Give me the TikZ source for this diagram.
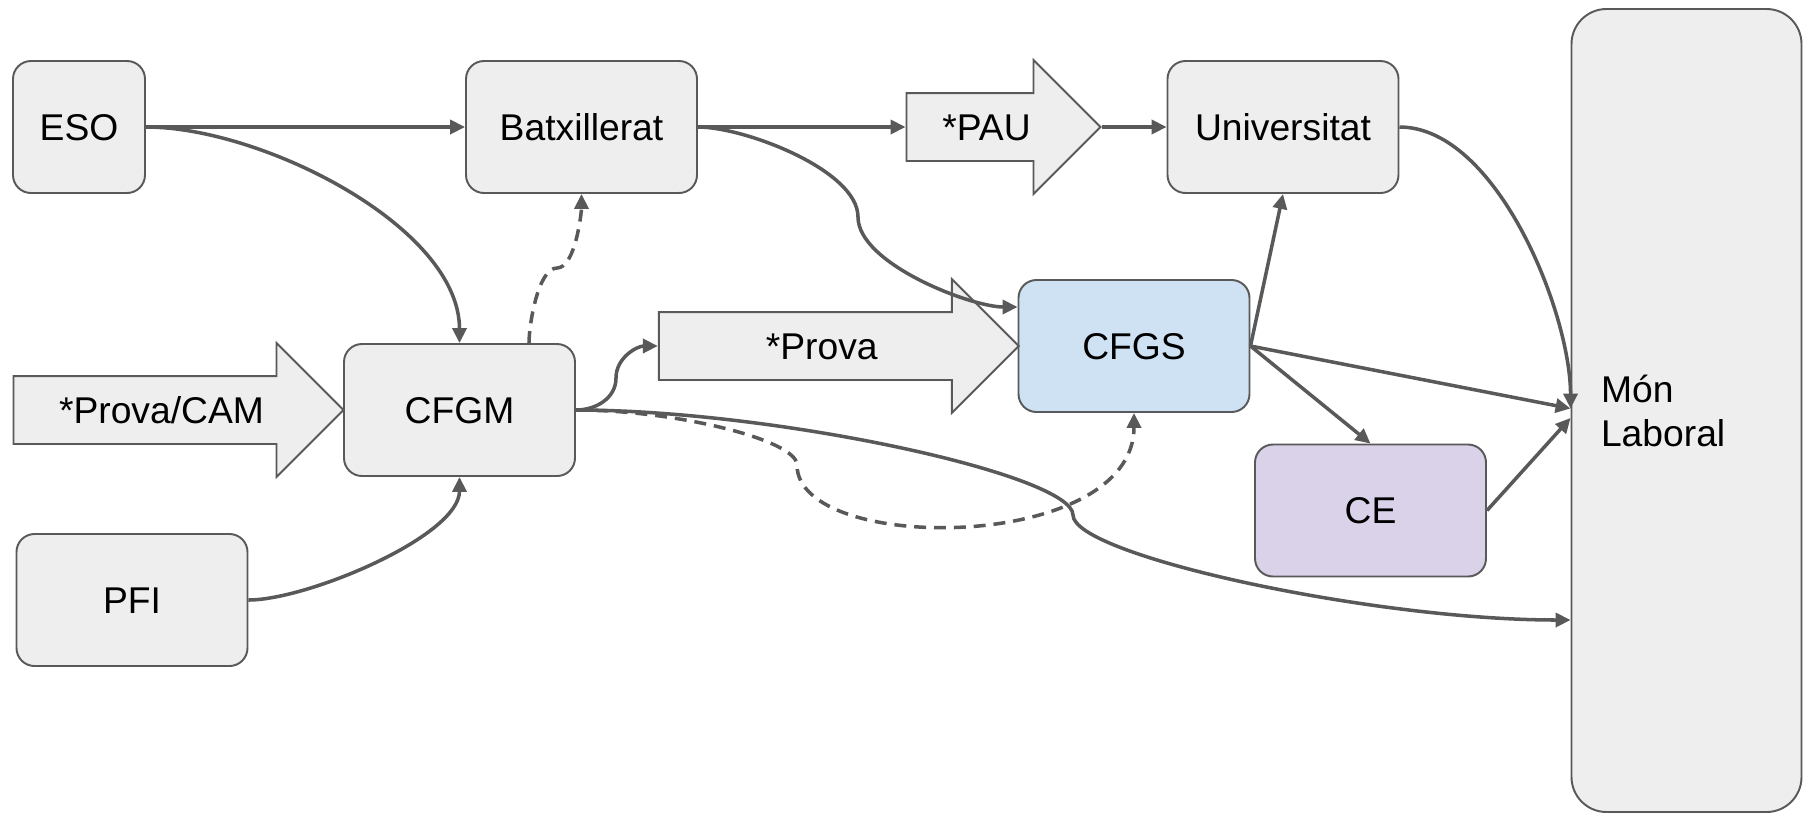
\documentclass[tikz,border=0pt]{standalone}
\usepackage{fontspec}
\setmainfont{Liberation Sans}
\usepackage{tikz}
\usetikzlibrary{shapes.arrows, arrows.meta}
\definecolor{linegray}{HTML}{595959}
\definecolor{boxgray}{HTML}{EEEEEE}
\definecolor{cfgsblue}{HTML}{CFE2F3}
\definecolor{cepurple}{HTML}{D9D2E9}
\tikzstyle{panel} = [rectangle, rounded corners = 0.36cm, draw = linegray, line width = 1.1pt, fill = boxgray]
\tikzstyle{box} = [panel, minimum width = 4.62cm, minimum height = 2.64cm, text centered, text height = 15.2pt, text depth = 0pt]
\tikzstyle{bigarrow} = [single arrow, draw = linegray, line width = 1.1pt, fill = boxgray, single arrow head extend = 0.66cm, single arrow tip angle = 90, minimum width = 2.64cm, inner ysep = 0pt, text height = 0.927cm, text depth = 0.393cm]
\tikzstyle{arrow} = [line width = 2pt, draw = linegray, ->, >={Triangle[length = 8.5pt, width = 8pt]}]
\tikzstyle{dasharrow} = [arrow, dash pattern = on 6.8pt off 4.5pt]

\begin{document}
\begin{tikzpicture}[font = \fontsize{21.2pt}{25pt}\selectfont]
                \useasboundingbox (-1.58,2.54) rectangle (34.56,-13.70);
                \node (eso) [box, minimum width = 2.64cm] {ESO};
                \node (batx) [box, right of = eso, xshift = 9.05cm] {Batxillerat};
                \node (pau) [bigarrow, minimum height = 3.88cm, right of = batx, xshift = 7.1cm] {*PAU};
                \node (univ) [box, right of = batx, xshift = 13.03cm] {Universitat};
                \node (cfgm) [box, below of = batx, xshift = -2.44cm, yshift = -4.66cm] {CFGM};
                \node (provacam) [bigarrow, minimum height = 6.6cm, left of = cfgm, xshift = -4.96cm] {*Prova/CAM};
                \node (pfi) [box, below of = cfgm, xshift = -6.55cm, yshift = -2.8cm] {PFI};
                \node (cfgs) [box, fill = cfgsblue, below of = univ, xshift = -2.98cm, yshift = -3.38cm] {CFGS};
                \node (prova) [bigarrow, minimum height = 7.2cm, left of = cfgs, xshift = -5.244cm] {*Prova};
                \node (ce) [box, fill = cepurple, below of = cfgs, xshift = 4.73cm, yshift = -2.29cm] {CE};
                \node (mon) [panel, rounded corners = 0.7cm, minimum width = 4.6cm, minimum height = 16.06cm, text width = 3.42cm, align = left, right of = univ, xshift = 7.07cm, yshift = -5.67cm] {Món\\Laboral};

                \coordinate (batxbend) at (15.58,-1.8);
                \coordinate (dashkink) at (9.56,-2.82);
                \coordinate (provabend) at (10.74,-5.02);
                \coordinate (dashbend) at (14.36,-6.76);
                \coordinate (monbend) at (19.88,-7.76);

                \draw [arrow] (eso.east) -- (batx.west);
                \draw [arrow] (eso.east) to [out = 0, in = 90, looseness = 0.78] (cfgm.north);
                \draw [arrow] (pfi.east) to [out = 0, in = -90, looseness = 0.62] (cfgm.south);
                \draw [dasharrow] ([xshift = 1.39cm]cfgm.north) to [out = 90, in = 180, looseness = 0.6] (dashkink) to [out = 0, in = -90, looseness = 0.6] (batx.south);
                \draw [arrow] (batx.east) -- (pau.tail);
                \draw [arrow] (pau.tip) -- (univ.west);
                \draw [arrow] (batx.east) to [out = 0, in = 90, looseness = 0.65] (batxbend) to [out = -90, in = 180, looseness = 0.65] ([yshift = 0.78cm]cfgs.west);
                \draw [arrow] (cfgm.east) to [out = 0, in = -90] (provabend) to [out = 90, in = 180] (prova.tail);
                \draw [dasharrow] (cfgm.east) to [out = 0, in = 90, out distance = 2cm, in distance = 0.5cm] (dashbend) to [out = -90, in = -90, out distance = 1.8cm, in distance = 2.8cm] (cfgs.south);
                \draw [arrow] (cfgm.east) to [out = 0, in = 90, out distance = 4cm, in distance = 0.8cm] (monbend) to [out = -90, in = 180, out distance = 0.8cm, in distance = 4cm] ([yshift = -4.19cm]mon.west);
                \draw [arrow] (univ.east) to [out = 0, in = 90, looseness = 0.75] ([yshift = 0.04cm]mon.west);
                \draw [arrow] (cfgs.east) -- ([yshift = 0.04cm]mon.west);
                \draw [arrow] (cfgs.east) -- (univ.south);
                \draw [arrow] (cfgs.east) -- (ce.north);
                \draw [arrow] (ce.east) -- ([yshift = -0.15cm]mon.west);
\end{tikzpicture}
\end{document}
